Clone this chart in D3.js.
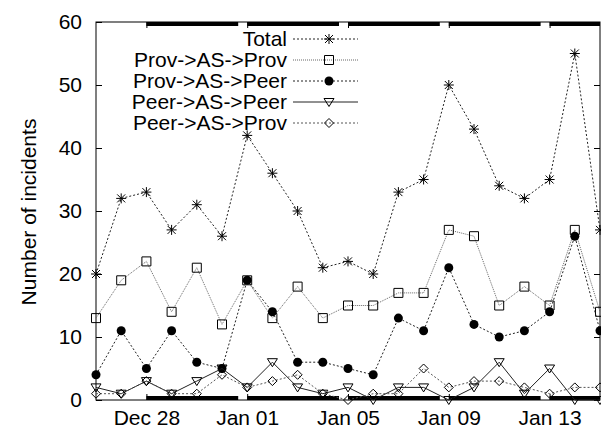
<!DOCTYPE html>
<html>
<head>
	<meta charset="utf-8">
	<title>Incidents</title>
	<style type="text/css">
		body { margin: 0; background: white; }
		svg { display: block; font-family: 'Liberation Sans', Arial, sans-serif; }
	</style>
	<script src="https://d3js.org/d3.v7.min.js"></script>
</head>
<body>
	<svg width="601" height="430"></svg>
	<script type="text/javascript">
		// one point per day, Dec 26 2008 .. Jan 15 2009
		var days = ['2008-12-26', '2008-12-27', '2008-12-28', '2008-12-29', '2008-12-30', '2008-12-31',
			'2009-01-01', '2009-01-02', '2009-01-03', '2009-01-04', '2009-01-05', '2009-01-06',
			'2009-01-07', '2009-01-08', '2009-01-09', '2009-01-10', '2009-01-11', '2009-01-12',
			'2009-01-13', '2009-01-14', '2009-01-15'];
		var total = [20, 32, 33, 27, 31, 26, 42, 36, 30, 21, 22, 20, 33, 35, 50, 43, 34, 32, 35, 55, 27];
		var provProv = [13, 19, 22, 14, 21, 12, 19, 13, 18, 13, 15, 15, 17, 17, 27, 26, 15, 18, 15, 27, 14];
		var provPeer = [4, 11, 5, 11, 6, 5, 19, 14, 6, 6, 5, 4, 13, 11, 21, 12, 10, 11, 14, 26, 11];
		var peerPeer = [2, 1, 3, 1, 3, 5, 2, 6, 2, 1, 2, 0, 2, 2, 0, 2, 6, 1, 5, 0, 0];
		var peerProv = [1, 1, 3, 1, 1, 4, 2, 3, 4, 1, 0, 1, 1, 5, 2, 3, 3, 2, 1, 2, 2];
		var seriesNames = ['Total', 'Prov->AS->Prov', 'Prov->AS->Peer', 'Peer->AS->Peer', 'Peer->AS->Prov'];
		var xTickDays = ['2008-12-28', '2009-01-01', '2009-01-05', '2009-01-09', '2009-01-13'];
		var yTicks = [0, 10, 20, 30, 40, 50, 60];

		var svg = d3.select('svg');
		var parse = d3.utcParse('%Y-%m-%d');
		var plotL = 96, plotR = 600, plotT = 22, plotB = 400;

		var x = d3.scaleUtc()
			.domain([parse(days[0]), parse(days[days.length - 1])])
			.range([plotL, plotR]);
		var y = d3.scaleLinear().domain([0, 60]).range([plotB, plotT]);

		// thick bars along top and bottom border, starting at each labelled tick
		var tickDates = xTickDays.map(parse);
		tickDates.forEach(function (d, i) {
			var x0 = x(d);
			var x1 = i < tickDates.length - 1 ? x(tickDates[i + 1]) - 9 : plotR;
			[plotT, plotB - 4].forEach(function (yy) {
				svg.append('rect')
					.attr('x', x0).attr('y', yy)
					.attr('width', x1 - x0).attr('height', 4)
					.attr('fill', 'black');
			});
		});

		svg.append('rect')
			.attr('x', plotL).attr('y', plotT)
			.attr('width', plotR - plotL).attr('height', plotB - plotT)
			.attr('fill', 'none').attr('stroke', 'black').attr('stroke-width', 1);

		var xAxis = d3.axisBottom(x).tickValues(tickDates).tickFormat(d3.utcFormat('%b %d'))
			.tickSizeInner(-6).tickSizeOuter(0).tickPadding(10);
		var gx = svg.append('g').attr('transform', 'translate(0,' + plotB + ')').call(xAxis);
		var gx2 = svg.append('g').attr('transform', 'translate(0,' + plotT + ')')
			.call(d3.axisTop(x).tickValues(tickDates).tickFormat('').tickSizeInner(-6).tickSizeOuter(0));
		var gy = svg.append('g').attr('transform', 'translate(' + plotL + ',0)')
			.call(d3.axisLeft(y).tickValues(yTicks).tickSizeInner(-6).tickSizeOuter(0).tickPadding(14));
		var gy2 = svg.append('g').attr('transform', 'translate(' + plotR + ',0)')
			.call(d3.axisRight(y).tickValues(yTicks).tickFormat('').tickSizeInner(-6).tickSizeOuter(0));
		[gx, gx2, gy, gy2].forEach(function (g) {
			g.select('.domain').remove();
			g.selectAll('text').attr('font-size', 21).attr('fill', 'black');
			g.attr('font-family', null);
		});

		svg.append('text')
			.attr('transform', 'translate(36,212) rotate(-90)')
			.attr('text-anchor', 'middle')
			.attr('font-size', 21)
			.text('Number of incidents');

		// markers
		var star = 'M-5,0L5,0M0,-5L0,5M-4,-4L4,4M-4,4L4,-4';
		var square = 'M-4.5,-4.5L4.5,-4.5L4.5,4.5L-4.5,4.5Z';
		var triDown = 'M-5,-3.5L5,-3.5L0,4.5Z';
		var diamond = 'M0,-4.5L4.5,0L0,4.5L-4.5,0Z';

		var series = [
			{values: total, dash: '2,2', col: '#222', mark: star},
			{values: provProv, dash: '1,1', col: '#666', mark: square},
			{values: provPeer, dash: '2,2', col: '#222', mark: 'circle'},
			{values: peerPeer, dash: null, col: '#222', mark: triDown},
			{values: peerProv, dash: '2,2', col: '#555', mark: diamond}
		];

		var line = d3.line()
			.x(function (d, i) { return x(parse(days[i])); })
			.y(function (d) { return y(d); });

		function drawMark(g, mark, cx, cy) {
			if (mark === 'circle') {
				g.append('circle').attr('cx', cx).attr('cy', cy).attr('r', 4.5).attr('fill', 'black');
			} else {
				g.append('path')
					.attr('d', mark)
					.attr('transform', 'translate(' + cx + ',' + cy + ')')
					.attr('fill', 'none').attr('stroke', 'black').attr('stroke-width', 1);
			}
		}

		series.forEach(function (s) {
			svg.append('path')
				.attr('d', line(s.values))
				.attr('fill', 'none')
				.attr('stroke', s.col)
				.attr('stroke-width', 1)
				.attr('stroke-dasharray', s.dash);
			var g = svg.append('g');
			s.values.forEach(function (v, i) {
				drawMark(g, s.mark, x(parse(days[i])), y(v));
			});
		});

		// legend
		seriesNames.forEach(function (name, i) {
			var ly = 39 + i * 21;
			var s = series[i];
			svg.append('text')
				.attr('x', 287).attr('y', ly)
				.attr('dy', '0.35em')
				.attr('text-anchor', 'end')
				.attr('font-size', 21)
				.text(name);
			svg.append('line')
				.attr('x1', 293).attr('x2', 358)
				.attr('y1', ly).attr('y2', ly)
				.attr('stroke', s.col)
				.attr('stroke-width', 1)
				.attr('stroke-dasharray', s.dash);
			drawMark(svg, s.mark, 329, ly);
		});
	</script>
</body>
</html>
